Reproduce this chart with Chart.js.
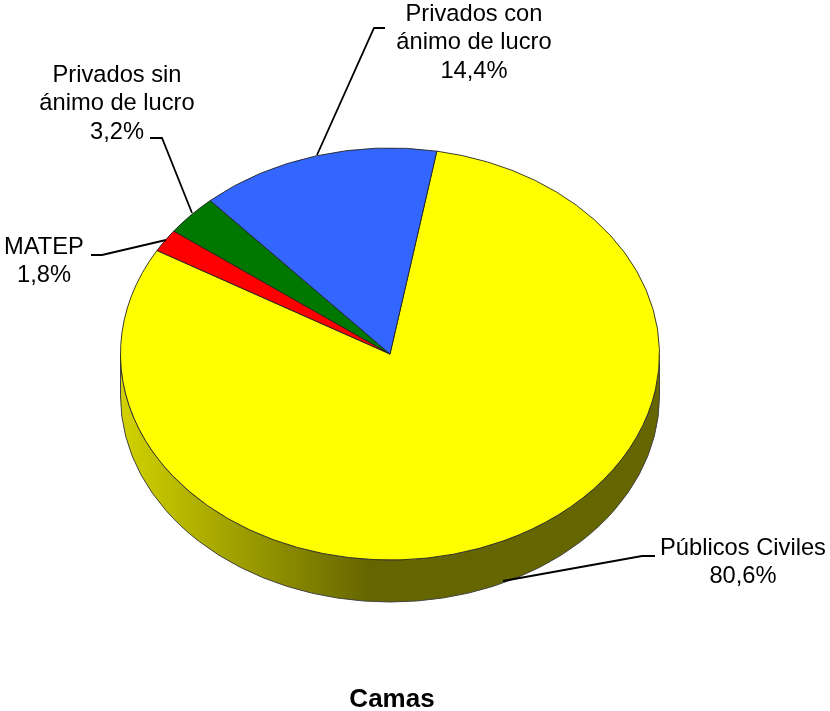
<!DOCTYPE html>
<html><head><meta charset="utf-8">
<style>html,body{margin:0;padding:0;background:#fff}canvas{display:block}</style>
<script src="https://cdn.jsdelivr.net/npm/chart.js@4"></script>
</head><body>
<canvas id="c" width="830" height="711"></canvas>
<script>
const categories = ["Públicos Civiles", "MATEP", "Privados sin ánimo de lucro", "Privados con ánimo de lucro"];
const values = [80.6, 1.8, 3.2, 14.4];
const labelLines = [["Públicos Civiles", "80,6%"], ["MATEP", "1,8%"], ["Privados sin", "ánimo de lucro", "3,2%"], ["Privados con", "ánimo de lucro", "14,4%"]];
const colors = ["#ffff00", "#ff0000", "#007800", "#3366ff"];
const chartTitle = "Camas";

const TILT = 206 / 269.5, DEPTH = 42, FONT = '23.7px "Liberation Sans", Arial, sans-serif';
const labelPos = [[743, 548], [44, 247], [117, 75], [474, 14]];
const leaders = [[[655, 556], [642, 556], [503, 581]], [[91, 255], [102, 255], [166, 240]], [[150, 138], [162, 138], [192, 213]], [[385, 28], [374, 28], [317, 155]]];

const squash = (ctx, a) => {
  ctx.translate(a.x, a.y); ctx.scale(1, TILT); ctx.translate(-a.x, -a.y);
};
const pie3d = {
  id: 'pie3d',
  afterLayout(chart) {
    chart.titleBlock.left += 2; chart.titleBlock.right += 2;
  },
  beforeDatasetsDraw(chart) {
    const ctx = chart.ctx, a = chart.getDatasetMeta(0).data[0];
    const cx = a.x, cy = a.y, rx = a.outerRadius, ry = rx * TILT;
    const g = ctx.createLinearGradient(cx - rx, 0, cx + rx, 0);
    g.addColorStop(0, '#d2d200');
    g.addColorStop(0.46, '#666600');
    g.addColorStop(1, '#666600');
    ctx.save();
    ctx.beginPath();
    ctx.ellipse(cx, cy, rx, ry, 0, 0, Math.PI);
    ctx.lineTo(cx - rx, cy + DEPTH);
    ctx.ellipse(cx, cy + DEPTH, rx, ry, 0, Math.PI, 0, true);
    ctx.closePath();
    ctx.fillStyle = g; ctx.fill();
    ctx.strokeStyle = '#444'; ctx.lineWidth = 1; ctx.stroke();
    ctx.restore();
    ctx.save();
    squash(ctx, a);
  },
  afterDatasetsDraw(chart) {
    const ctx = chart.ctx;
    ctx.restore();
    ctx.save();
    ctx.strokeStyle = '#000'; ctx.lineWidth = 1.8;
    leaders.forEach(pts => {
      ctx.beginPath();
      pts.forEach((p, i) => i ? ctx.lineTo(p[0], p[1]) : ctx.moveTo(p[0], p[1]));
      ctx.stroke();
    });
    ctx.fillStyle = '#000'; ctx.font = FONT; ctx.textAlign = 'center'; ctx.textBaseline = 'middle';
    labelLines.forEach((lines, i) => lines.forEach((t, j) =>
      ctx.fillText(t, labelPos[i][0], labelPos[i][1] + j * 28.5)));
    ctx.restore();
  }
};
new Chart(document.getElementById('c'), {
  type: 'pie',
  data: { labels: categories, datasets: [{ data: values, backgroundColor: colors, borderColor: '#222', borderWidth: 1, borderJoinStyle: 'miter' }] },
  options: {
    responsive: false, animation: false, rotation: 10,
    layout: { padding: { left: 120, right: 170, top: 84, bottom: 0 } },
    plugins: {
      legend: { display: false }, tooltip: { enabled: false },
      title: { display: true, text: chartTitle, position: 'bottom', color: '#000',
        font: { family: '"Liberation Sans", Arial, sans-serif', size: 26, weight: 'bold', lineHeight: 1 }, padding: { top: 63, bottom: -2 } }
    }
  },
  plugins: [pie3d]
});
</script>
</body></html>
